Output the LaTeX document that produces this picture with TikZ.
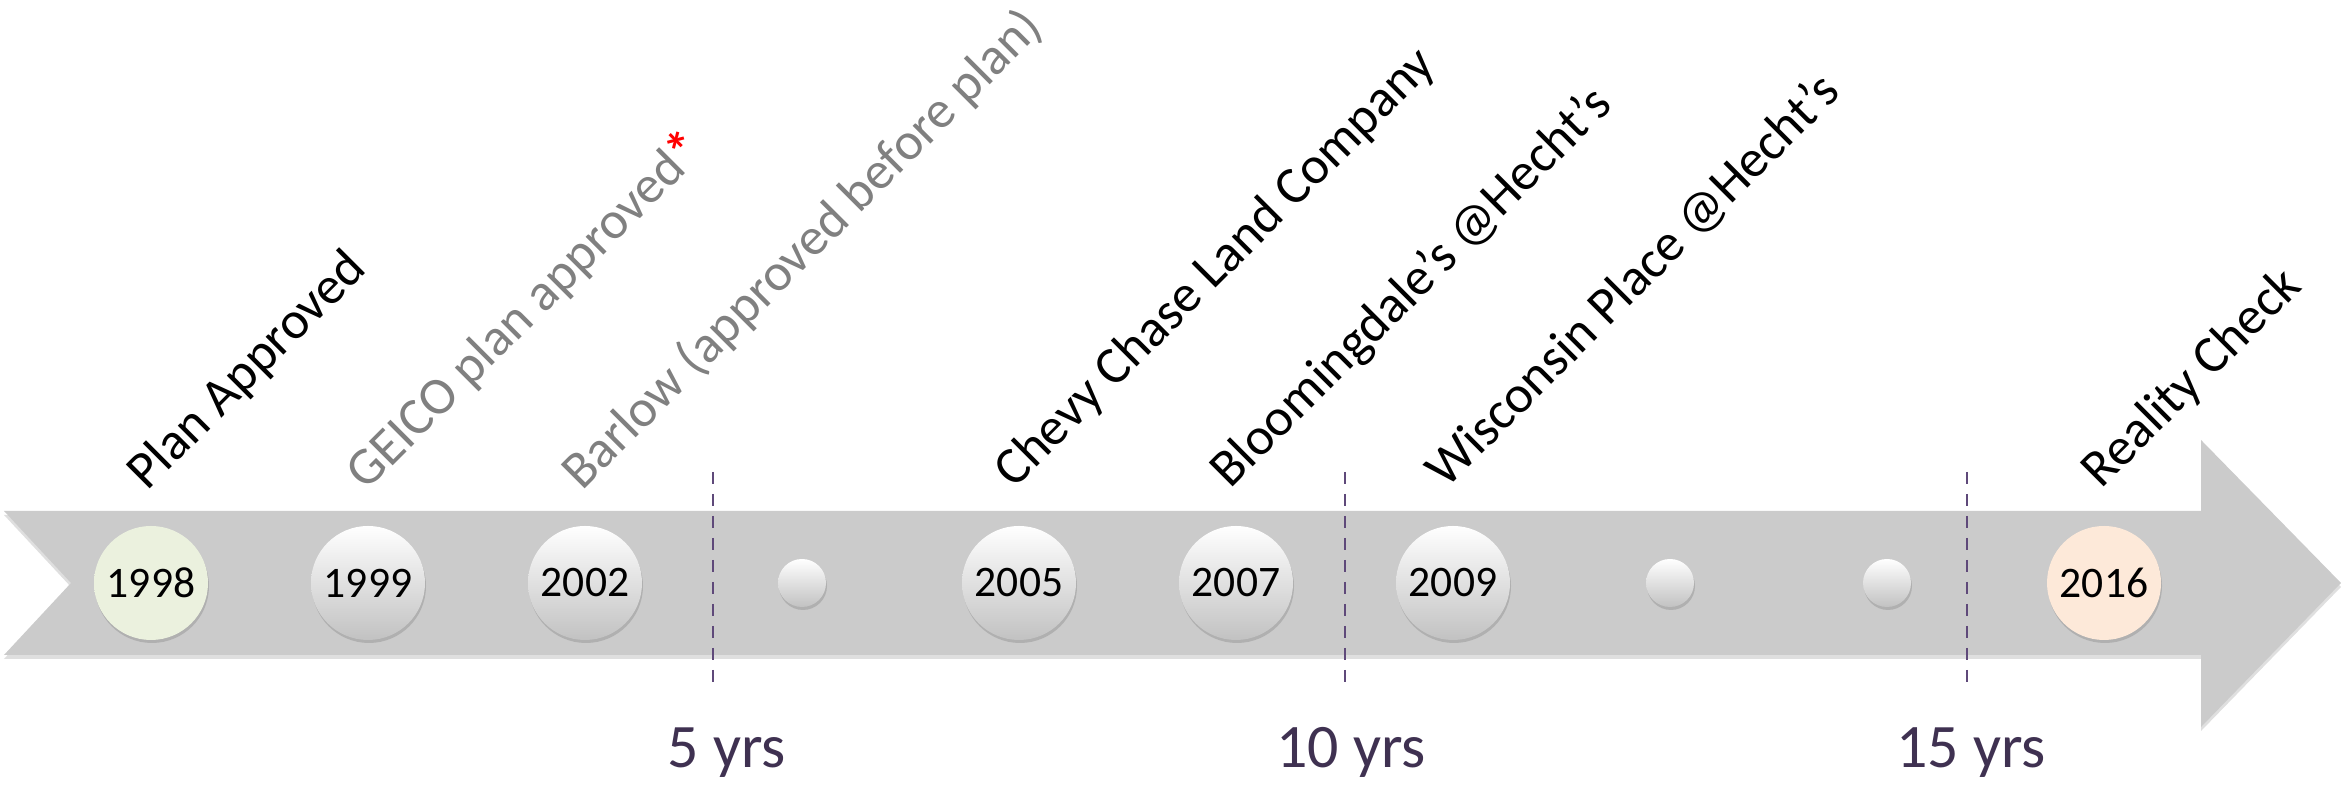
\documentclass[tikz,border=0pt]{standalone}
\usepackage{fontspec}
\setmainfont{Carlito}
\usetikzlibrary{positioning,shadows}

\definecolor{bandgray}{RGB}{203,203,203}
\definecolor{greenpale}{RGB}{235,241,222}
\definecolor{peachpale}{RGB}{253,233,217}
\definecolor{tickpurple}{RGB}{95,73,122}
\definecolor{yrspurple}{RGB}{63,49,81}
\definecolor{fadedgray}{RGB}{128,128,128}

\begin{document}
\begin{tikzpicture}[node distance=2.17cm, font=\fontsize{12.4}{14}\selectfont]
        \tikzstyle{year}=[circle,minimum size=1.14cm,inner sep=0pt,top color=white,bottom color=black!24,
                          drop shadow={shadow xshift=0.01cm,shadow yshift=-0.03cm,opacity=0.35}]
        \tikzstyle{dot}=[year,minimum size=0.48cm]
        \tikzstyle{event}=[rotate=45,anchor=base west,inner sep=0pt,font=\fontsize{15}{18}\selectfont]
        \tikzstyle{yrsline}=[tickpurple,line width=0.6pt,dash pattern=on 0.12cm off 0.1cm]
        \tikzstyle{yrs}=[anchor=base,text=yrspurple,font=\fontsize{17.6}{21}\selectfont]

        \useasboundingbox (0,0) rectangle (23.41,7.86);

        % band with arrow head
        \fill[bandgray,drop shadow={shadow xshift=0cm,shadow yshift=-0.04cm,opacity=0.25}]
              (0.04,2.75) -- (22.01,2.75) -- (22.01,3.46) -- (23.41,2.03)
           -- (22.01,0.59) -- (22.01,1.31) -- (0.04,1.31) -- (0.71,2.03) -- cycle;

        % year circles
        \node[year,top color=greenpale,bottom color=greenpale] (y98) at (1.51,2.03) {1998};
        \node[year]  (y99) [right of=y98] {1999};
        \node[year]  (y02) [right of=y99] {2002};
        \node[dot]   (d1)  [right of=y02] {};
        \node[year]  (y05) [right of=d1]  {2005};
        \node[year]  (y07) [right of=y05] {2007};
        \node[year]  (y09) [right of=y07] {2009};
        \node[dot]   (d2)  [right of=y09] {};
        \node[dot]   (d3)  [right of=d2]  {};
        \node[year,top color=peachpale,bottom color=peachpale] (y16) [right of=d3] {2016};

        % events
        \node[event] (t98) at ([shift={(-0.04,0.33)}]y98.north) {Plan Approved};
        \node[event,text=fadedgray] (t99) at ([shift={(-0.02,0.33)}]y99.north) {GEICO plan approved\textcolor{red}{\textbf{*}}};
        \node[event,text=fadedgray] (t02) at ([shift={(-0.03,0.33)}]y02.north) {Barlow (approved before plan)};
        \node[event] (t05) at ([shift={(-0.05,0.35)}]y05.north) {Chevy Chase Land Company};
        \node[event] (t07) at ([shift={(-0.06,0.35)}]y07.north) {Bloomingdale’s @Hecht’s};
        \node[event] (t09) at ([shift={(-0.07,0.35)}]y09.north) {Wisconsin Place @Hecht’s};
        \node[event] (t16) at ([shift={(-0.03,0.35)}]y16.north) {Reality Check};

        % five-year marks
        \coordinate (m5a)  at (7.13,3.14);  \coordinate (m5b)  at (7.13,0.99);
        \coordinate (m10a) at (13.45,3.14); \coordinate (m10b) at (13.45,0.99);
        \coordinate (m15a) at (19.67,3.14); \coordinate (m15b) at (19.67,0.99);
        \draw[yrsline] (m5a) -- (m5b);
        \draw[yrsline] (m10a) -- (m10b);
        \draw[yrsline] (m15a) -- (m15b);
        \node[yrs] (l5)  at (7.27,0.18)  {5 yrs};
        \node[yrs] (l10) at (13.51,0.18) {10 yrs};
        \node[yrs] (l15) at (19.71,0.18) {15 yrs};
\end{tikzpicture}
\end{document}
